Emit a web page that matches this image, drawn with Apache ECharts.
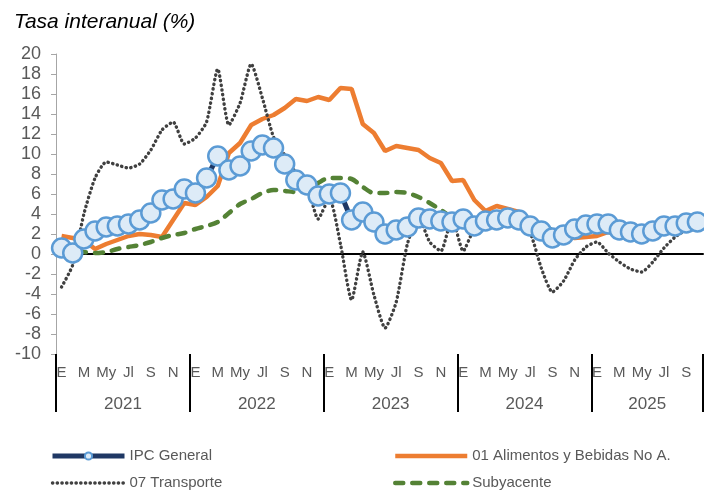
<!DOCTYPE html>
<html>
<head>
<meta charset="utf-8">
<script src="https://cdn.jsdelivr.net/npm/echarts@6/dist/echarts.min.js"></script>
<style>
  html, body { margin: 0; padding: 0; background: #fff; }
  #chart { width: 704px; height: 490px; }
</style>
</head>
<body>
<div id="chart"></div>
<script>
// meses: ene 2021 .. oct 2025
var years = ['2021', '2022', '2023', '2024', '2025'];
var monthsPerYear = [12, 12, 12, 12, 10];
var monthAbbr = ['E', 'F', 'M', 'A', 'My', 'Jn', 'Jl', 'Ag', 'S', 'O', 'N', 'D'];

var ipcGeneral = [0.6, 0.1, 1.5, 2.3, 2.7, 2.8, 3.0, 3.4, 4.1, 5.4, 5.5, 6.5,
    6.1, 7.6, 9.8, 8.4, 8.8, 10.3, 10.9, 10.6, 9.0, 7.4, 6.9, 5.8,
    6.0, 6.1, 3.4, 4.2, 3.2, 2.0, 2.4, 2.7, 3.6, 3.5, 3.3, 3.2,
    3.5, 2.8, 3.3, 3.4, 3.6, 3.4, 2.8, 2.3, 1.6, 1.9, 2.5, 2.9,
    3.0, 3.0, 2.4, 2.2, 2.0, 2.3, 2.8, 2.8, 3.1, 3.2];
var alimentos = [1.8, 1.6, 1.4, 0.5, 1.0, 1.4, 1.8, 2.0, 1.9, 1.7, 3.4, 5.1,
    4.9, 5.7, 6.8, 10.1, 11.1, 12.9, 13.5, 13.9, 14.6, 15.5, 15.3, 15.7,
    15.4, 16.6, 16.5, 13.0, 12.1, 10.3, 10.8, 10.6, 10.4, 9.6, 9.1, 7.3,
    7.4, 5.4, 4.3, 4.8, 4.5, 4.2, 3.2, 2.4, 1.8, 1.9, 1.6, 1.7,
    1.8, 2.2, 2.4, 2.1, 2.6, 2.9, 2.8, 2.5, 2.5, 2.5];
var transporte = [-3.3, -1.1, 4.0, 7.6, 9.2, 8.9, 8.6, 9.0, 10.4, 12.4, 13.2, 11.0,
    11.6, 13.2, 18.5, 12.9, 15.1, 19.0, 15.6, 11.7, 9.9, 8.1, 6.9, 3.5,
    5.6, 1.0, -4.6, 0.2, -4.1, -7.4, -4.8, 1.0, 3.7, 1.2, 0.3, 3.6,
    0.3, 2.5, 2.9, 3.2, 3.6, 2.7, 2.1, -1.4, -3.8, -2.7, -0.6, 0.7,
    1.2, 0.1, -0.8, -1.5, -1.8, -0.8, 0.6, 1.7, 2.4, 2.7];
var subyacente = [0.7, 0.4, 0.2, 0.1, 0.2, 0.5, 0.7, 0.9, 1.2, 1.6, 1.9, 2.1,
    2.5, 2.8, 3.2, 4.1, 5.0, 5.5, 6.1, 6.4, 6.3, 6.2, 6.4, 7.1,
    7.6, 7.6, 7.5, 6.7, 6.1, 6.1, 6.2, 6.1, 5.7, 5.1, 4.4, 3.7,
    3.6, 3.4, 3.2, 3.0, 3.0, 2.9, 2.7, 2.6, 2.5, 2.5, 2.5, 2.5,
    2.5, 2.2, 2.1, 2.3, 2.3, 2.3, 2.3, 2.4, 2.5, 2.5];

var yTicks = { min: -10, max: 20, step: 2 };

// categorias y posiciones de años a partir de los meses
var monthKeys = [];
var yearStarts = [];
var yearMids = [];
var pos = 0;
years.forEach(function (y, k) {
    yearStarts.push(pos);
    yearMids.push(pos + monthsPerYear[k] / 2);
    for (var m = 0; m < monthsPerYear[k]; m++) {
        monthKeys.push(y + '-' + (m + 1));
    }
    pos += monthsPerYear[k];
});
yearStarts.push(pos);

var font = "'Liberation Sans', Arial, sans-serif";
var narrow = "'Liberation Sans Narrow', 'Arial Narrow', 'Liberation Sans', sans-serif";
var grey = '#595959';
var noSymbol = { opacity: 0 }; // sin marcador en la leyenda

var chart = echarts.init(document.getElementById('chart'), null, { renderer: 'canvas' });

var legendBase = {
    orient: 'vertical',
    top: 448,
    height: 60,
    padding: 0,
    itemWidth: 72,
    itemHeight: 9,
    itemGap: 11,
    lineStyle: { width: 'inherit' },
    textStyle: { fontSize: 15, lineHeight: 16, color: grey, fontFamily: font }
};

var option = {
    animation: false,
    textStyle: { fontFamily: font },
    title: {
        text: 'Tasa interanual (%)',
        left: 9,
        top: 7,
        textStyle: { fontFamily: font, fontStyle: 'italic', fontWeight: 'normal', fontSize: 21, color: '#000' }
    },
    grid: { left: 56, right: 1, top: 54, bottom: 136, containLabel: false },
    legend: [
        Object.assign({}, legendBase, {
            left: 50,
            data: ['IPC General', { name: '07 Transporte', itemStyle: noSymbol }]
        }),
        Object.assign({}, legendBase, {
            left: 393,
            data: [{ name: '01 Alimentos y Bebidas No A.', itemStyle: noSymbol },
                { name: 'Subyacente', itemStyle: noSymbol }]
        })
    ],
    xAxis: [{
        // meses
        type: 'category',
        data: monthKeys,
        position: 'bottom',
        boundaryGap: true,
        axisLine: { show: false, onZero: false },
        axisTick: { show: false },
        axisLabel: {
            interval: 1,
            margin: 11,
            fontSize: 15,
            color: grey,
            fontFamily: narrow,
            formatter: function (v, i) { return monthAbbr[i % 12]; }
        },
        splitLine: { show: false }
    }, {
        // años, separadores
        type: 'value',
        min: 0,
        max: monthKeys.length,
        position: 'bottom',
        axisLine: { show: false, onZero: false },
        axisTick: {
            show: true,
            customValues: yearStarts,
            length: 58,
            lineStyle: { color: '#000', width: 2 }
        },
        axisLabel: {
            customValues: yearMids,
            margin: 42,
            fontSize: 17,
            color: grey,
            fontFamily: narrow,
            formatter: function (v) {
                var k = yearMids.indexOf(v);
                return k >= 0 ? years[k] : '';
            }
        },
        splitLine: { show: false }
    }, {
        // linea del cero
        type: 'category',
        data: monthKeys,
        axisLine: { show: true, onZero: true, lineStyle: { color: '#000', width: 2 } },
        axisTick: { show: false },
        axisLabel: { show: false },
        splitLine: { show: false }
    }],
    yAxis: {
        type: 'value',
        min: yTicks.min,
        max: yTicks.max,
        interval: yTicks.step,
        axisLine: { show: true, lineStyle: { color: '#A6A6A6', width: 1 } },
        axisTick: { show: true, length: 5, lineStyle: { color: '#A6A6A6' } },
        axisLabel: { fontSize: 18, color: grey, margin: 15, fontFamily: font },
        splitLine: { show: false }
    },
    series: [{
        name: 'IPC General',
        type: 'line',
        data: ipcGeneral,
        symbol: 'circle',
        symbolSize: 19,
        showAllSymbol: true,
        lineStyle: { color: '#1F3864', width: 5 },
        itemStyle: { color: '#DDEBF7', borderColor: '#5B9BD5', borderWidth: 2.5 },
        color: '#1F3864'
    }, {
        name: '01 Alimentos y Bebidas No A.',
        type: 'line',
        data: alimentos,
        showSymbol: false,
        lineStyle: { color: '#ED7D31', width: 4.5 },
        itemStyle: { color: '#ED7D31' }
    }, {
        name: '07 Transporte',
        type: 'line',
        data: transporte,
        showSymbol: false,
        smooth: 0.2,
        lineStyle: { color: '#404040', width: 3.4, type: [0.3, 4.4], cap: 'round' },
        itemStyle: { color: '#404040' }
    }, {
        name: 'Subyacente',
        type: 'line',
        data: subyacente,
        showSymbol: false,
        smooth: 0.3,
        lineStyle: { color: '#548235', width: 4.5, type: [8, 9], cap: 'round' },
        itemStyle: { color: '#548235' }
    }]
};

chart.setOption(option);
</script>
</body>
</html>
